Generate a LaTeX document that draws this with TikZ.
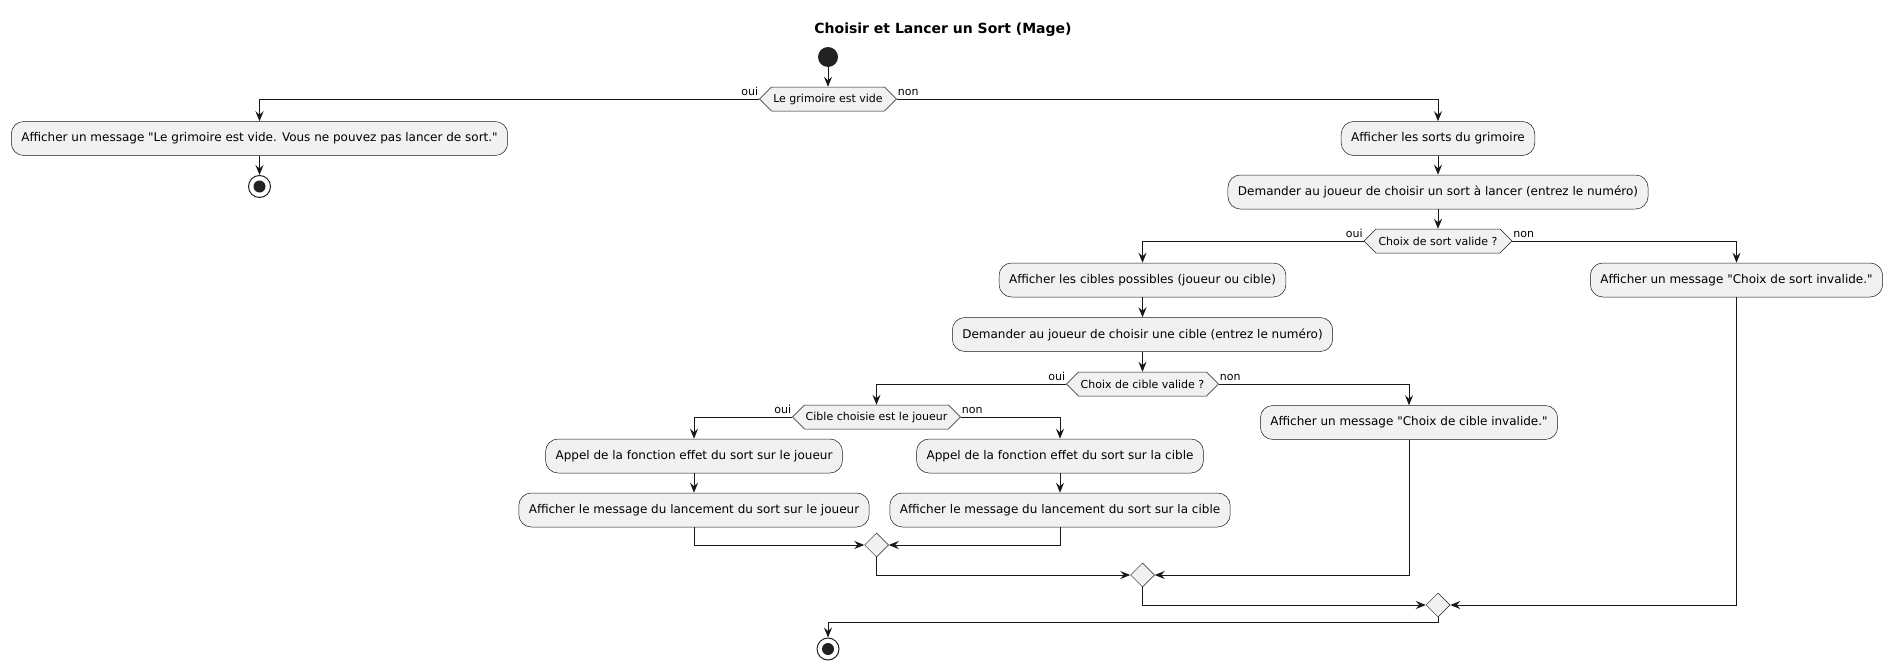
\documentclass[tikz,border=0pt]{standalone}
\usepackage{fontspec}
\setmainfont{DejaVu Sans}
\newfontfamily\uifont{DejaVu Sans}
\usetikzlibrary{arrows.meta,shapes.geometric}
\definecolor{actfill}{HTML}{F1F1F1}
\definecolor{lin}{HTML}{181818}
\definecolor{dot}{HTML}{222222}
\newcommand\hexa[5]{%
 \path[hexshape] ({#2-#4/2},#3) -- ({#2-#4/2+12},{#3-12}) -- ({#2+#4/2-12},{#3-12}) -- ({#2+#4/2},#3) -- ({#2+#4/2-12},{#3+12}) -- ({#2-#4/2+12},{#3+12}) -- cycle;
 \node[hextext, minimum width=#4pt] (#1) at (#2,#3) {#5};}
\begin{document}
\begin{tikzpicture}[x=1pt,y=-1pt,
 act/.style={draw=lin, line width=0.5pt, fill=actfill, rounded corners=12.5pt, minimum height=34pt, inner xsep=10pt, inner ysep=0pt, font=\uifont\fontsize{12}{14}\selectfont},
 hexshape/.style={draw=lin, line width=0.5pt, fill=actfill},
 hextext/.style={minimum height=24pt, inner sep=0pt, font=\uifont\fontsize{11}{13}\selectfont},
 merge/.style={diamond, draw=lin, line width=0.5pt, fill=actfill, minimum width=24pt, minimum height=24pt, inner sep=0pt},
 flow/.style={draw=lin, line width=1pt, -{Stealth[length=10pt,width=8pt,inset=3.5pt]}},
 lbl/.style={font=\uifont\fontsize{11}{13}\selectfont, inner sep=1pt},
 startdot/.style={circle, fill=dot, minimum size=20pt, inner sep=0pt},
 stopdot/.style={circle, draw=dot, line width=1pt, fill=white, minimum size=22pt, inner sep=0pt}
]
\useasboundingbox (0,0) rectangle (1889,669);

\node[font=\uifont\bfseries\fontsize{14}{16}\selectfont] (title) at (943,30) {Choisir et Lancer un Sort (Mage)};

\node[startdot] (start) at (828,57) {};
\hexa{d1}{828}{99}{137}{Le grimoire est vide}

\node[act] (b1) at (259.5,138.5) {Afficher un message "Le grimoire est vide. Vous ne pouvez pas lancer de sort."};
\node[stopdot] (stop1) at (259.5,186.5) {};
\fill[dot] (stop1.center) circle (6pt);

\node[act] (b2) at (1438,138.5) {Afficher les sorts du grimoire};
\node[act] (b3) at (1438,192) {Demander au joueur de choisir un sort à lancer (entrez le numéro)};
\hexa{d2}{1438}{241}{148}{Choix de sort valide ?}

\node[act] (b4) at (1142.5,280) {Afficher les cibles possibles (joueur ou cible)};
\node[act] (b5) at (1736.5,280) {Afficher un message "Choix de sort invalide."};
\node[act] (b6) at (1142.5,334.5) {Demander au joueur de choisir une cible (entrez le numéro)};
\hexa{d3}{1142.5}{384}{152}{Choix de cible valide ?}

\hexa{d4}{876.5}{417}{168}{Cible choisie est le joueur}
\node[act] (b7) at (1409,422.5) {Afficher un message "Choix de cible invalide."};

\node[act] (b8) at (694,456) {Appel de la fonction effet du sort sur le joueur};
\node[act] (b9) at (1060,456) {Appel de la fonction effet du sort sur la cible};
\node[act] (b10) at (694,510) {Afficher le message du lancement du sort sur le joueur};
\node[act] (b11) at (1060,510) {Afficher le message du lancement du sort sur la cible};

\node[merge] (mA) at (876.5,545) {};
\node[merge] (mB) at (1142.5,575) {};
\node[merge] (mC) at (1438,605) {};
\coordinate (jC) at (1438,622.5);
\node[stopdot] (stop2) at (828,649) {};
\fill[dot] (stop2.center) circle (6pt);

% labels
\node[lbl, anchor=base east] (o1) at ([yshift=4pt]d1.west) {oui};
\node[lbl, anchor=base west] (n1) at ([yshift=4pt]d1.east) {non};
\node[lbl, anchor=base east] (o2) at ([yshift=4pt]d2.west) {oui};
\node[lbl, anchor=base west] (n2) at ([yshift=4pt]d2.east) {non};
\node[lbl, anchor=base east] (o3) at ([yshift=4pt]d3.west) {oui};
\node[lbl, anchor=base west] (n3) at ([yshift=4pt]d3.east) {non};
\node[lbl, anchor=base east] (o4) at ([yshift=4pt]d4.west) {oui};
\node[lbl, anchor=base west] (n4) at ([yshift=4pt]d4.east) {non};

% connectors
\draw[flow] (start) -- (d1.north);
\draw[flow] (d1.west) -| (b1.north);
\draw[flow] (d1.east) -| (b2.north);
\draw[flow] (b1.south) -- (stop1.north);
\draw[flow] (b2.south) -- (b3.north);
\draw[flow] (b3.south) -- (d2.north);
\draw[flow] (d2.west) -| (b4.north);
\draw[flow] (d2.east) -| (b5.north);
\draw[flow] (b4.south) -- (b6.north);
\draw[flow] (b6.south) -- (d3.north);
\draw[flow] (d3.west) -| (d4.north);
\draw[flow] (d3.east) -| (b7.north);
\draw[flow] (d4.west) -| (b8.north);
\draw[flow] (d4.east) -| (b9.north);
\draw[flow] (b8.south) -- (b10.north);
\draw[flow] (b9.south) -- (b11.north);
\draw[flow] (b10.south) |- (mA.west);
\draw[flow] (b11.south) |- (mA.east);
\draw[flow] (mA.south) |- (mB.west);
\draw[flow] (b7.south) |- (mB.east);
\draw[flow] (mB.south) |- (mC.west);
\draw[flow] (b5.south) |- (mC.east);
\draw[flow] (mC.south) -- (jC) -| (stop2.north);
\end{tikzpicture}
\end{document}
